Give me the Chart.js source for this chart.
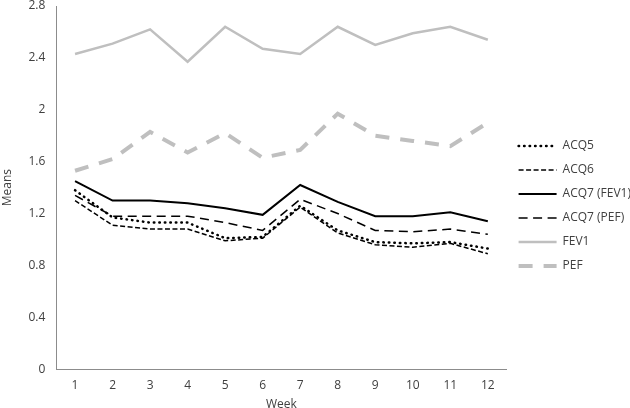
<!DOCTYPE html>
<html>
<head>
<meta charset="utf-8">
<script src="https://cdn.jsdelivr.net/npm/chart.js@4"></script>
<style>
  html, body { margin: 0; padding: 0; background: #fff; }
  #wrap { width: 630px; height: 408px; position: relative; }
</style>
</head>
<body>
<div id="wrap"><canvas id="meansChart"></canvas></div>
<script>
const weeks = ['1', '2', '3', '4', '5', '6', '7', '8', '9', '10', '11', '12'];
const acq5 = [1.38, 1.17, 1.13, 1.13, 1.01, 1.02, 1.26, 1.07, 0.98, 0.97, 0.98, 0.93];
const acq6 = [1.30, 1.11, 1.08, 1.08, 0.99, 1.01, 1.25, 1.05, 0.96, 0.94, 0.97, 0.89];
const acq7Fev1 = [1.45, 1.30, 1.30, 1.28, 1.24, 1.19, 1.42, 1.29, 1.18, 1.18, 1.21, 1.14];
const acq7Pef = [1.34, 1.18, 1.18, 1.18, 1.13, 1.07, 1.31, 1.20, 1.07, 1.06, 1.08, 1.04];
const fev1 = [2.43, 2.51, 2.62, 2.37, 2.64, 2.47, 2.43, 2.64, 2.50, 2.59, 2.64, 2.54];
const pef = [1.53, 1.62, 1.83, 1.67, 1.82, 1.63, 1.69, 1.97, 1.80, 1.76, 1.72, 1.90];

const font = "'Open Sans', 'Liberation Sans', sans-serif";
const textColor = '#404040';

const defaultLabels = Chart.defaults.plugins.legend.labels.generateLabels;

const ctx = document.getElementById('meansChart').getContext('2d');
const meansChart = new Chart(ctx, {
  type: 'line',
  data: {
    labels: weeks,
    datasets: [
      { label: 'ACQ5', data: acq5, borderColor: '#000', borderWidth: 2.5, borderDash: [0.5, 5], borderCapStyle: 'round' },
      { label: 'ACQ6', data: acq6, borderColor: '#000', borderWidth: 1.5, borderDash: [5, 2.5] },
      { label: 'ACQ7 (FEV1)', data: acq7Fev1, borderColor: '#000', borderWidth: 2 },
      { label: 'ACQ7 (PEF)', data: acq7Pef, borderColor: '#000', borderWidth: 1.5, borderDash: [9, 5.5] },
      { label: 'FEV1', data: fev1, borderColor: '#bfbfbf', borderWidth: 2.5 },
      { label: 'PEF', data: pef, borderColor: '#bfbfbf', borderWidth: 4, borderDash: [14, 11] },
    ],
  },
  options: {
    responsive: true,
    maintainAspectRatio: false,
    animation: false,
    elements: {
      point: { radius: 0, hoverRadius: 0 },
      line: { tension: 0, fill: false },
    },
    layout: { autoPadding: false, padding: { top: 0, right: -11, bottom: -4, left: 0 } },
    scales: {
      x: {
        offset: true,
        grid: { display: false, drawTicks: false },
        border: { color: '#8c8c8c', width: 1 },
        ticks: { color: textColor, font: { family: font, size: 12 }, padding: 9 },
        title: { display: true, text: 'Week', color: textColor, font: { family: font, size: 12 }, padding: { top: -4, bottom: 0 } },
      },
      y: {
        min: 0,
        max: 2.8,
        // tick padding also pads the top of the axis; keep the top tight like the original
        afterFit: (scale) => { scale.paddingTop = 6; },
        ticks: {
          stepSize: 0.4,
          color: textColor,
          font: { family: font, size: 12 },
          padding: 11,
          callback: (v) => String(+v.toFixed(1)),
        },
        grid: { display: false, drawTicks: false },
        border: { color: '#8c8c8c', width: 1 },
        title: { display: true, text: 'Means', color: textColor, font: { family: font, size: 12 }, padding: { top: 0, bottom: 3 } },
      },
    },
    plugins: {
      legend: {
        position: 'right',
        labels: {
          usePointStyle: true,
          pointStyle: 'line',
          pointStyleWidth: 38,
          boxWidth: 38,
          boxHeight: 11,
          padding: 12,
          color: textColor,
          font: { family: font, size: 12 },
          generateLabels: (chart) => {
            const items = defaultLabels(chart);
            items.forEach((item) => {
              const ds = chart.data.datasets[item.datasetIndex];
              item.lineDash = ds.borderDash || [];
              item.lineWidth = ds.borderWidth;
              item.lineCap = ds.borderCapStyle || 'butt';
              item.strokeStyle = ds.borderColor;
            });
            return items;
          },
        },
      },
      tooltip: { enabled: false },
    },
  },
});
</script>
</body>
</html>
